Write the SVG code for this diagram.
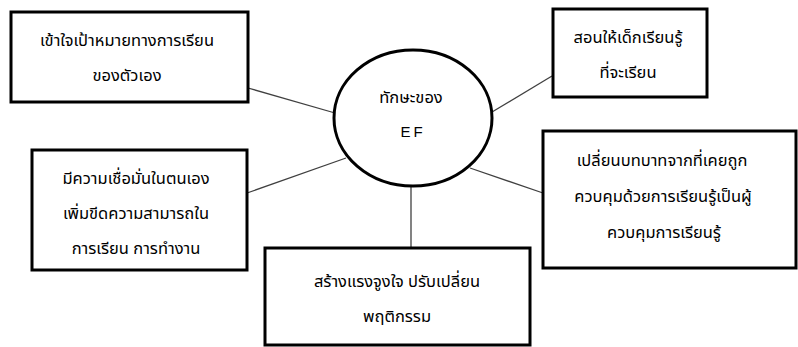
<svg xmlns="http://www.w3.org/2000/svg" width="798" height="347" viewBox="0 0 798 347">
<style>
.box{fill:#fff;stroke:#000;stroke-width:3}
.con{stroke:#404040;stroke-width:1.3;fill:none}
.t{font-family:"Noto Sans Thai","Noto Sans","DejaVu Sans",sans-serif;font-size:16.5px;fill:#000;text-anchor:middle}
.ef{font-family:"Liberation Sans",Arial,sans-serif;font-size:15px;letter-spacing:3px;fill:#000;text-anchor:middle}
</style>
<rect width="798" height="347" fill="#fff"/>
<g id="connectors">
<line class="con" x1="248" y1="88" x2="335" y2="113"/>
<line class="con" x1="552" y1="76" x2="492" y2="112"/>
<line class="con" x1="247" y1="193" x2="346" y2="158"/>
<line class="con" x1="470" y1="168" x2="543" y2="193"/>
<line class="con" x1="411" y1="186" x2="411" y2="248"/>
</g>
<g id="center">
<ellipse class="box" cx="413" cy="118" rx="79" ry="68"/>
<text class="t" x="411" y="103">ทักษะของ</text>
<text class="ef" x="413" y="137">EF</text>
</g>
<g id="node1">
<rect class="box" x="11" y="12" width="237" height="90"/>
<text class="t" x="127" y="46">เข้าใจเป้าหมายทางการเรียน</text>
<text class="t" x="127" y="81">ของตัวเอง</text>
</g>
<g id="node2">
<rect class="box" x="553" y="9" width="154" height="88"/>
<text class="t" x="628" y="43">สอนให้เด็กเรียนรู้</text>
<text class="t" x="628" y="78">ที่จะเรียน</text>
</g>
<g id="node3">
<rect class="box" x="32" y="150" width="215" height="120"/>
<text class="t" x="136" y="184">มีความเชื่อมั่นในตนเอง</text>
<text class="t" x="136" y="219">เพิ่มขีดความสามารถใน</text>
<text class="t" x="136" y="254">การเรียน การทำงาน</text>
</g>
<g id="node4">
<rect class="box" x="543" y="131" width="253" height="137"/>
<text class="t" x="662" y="166">เปลี่ยนบทบาทจากที่เคยถูก</text>
<text class="t" x="663" y="202">ควบคุมด้วยการเรียนรู้เป็นผู้</text>
<text class="t" x="664" y="238">ควบคุมการเรียนรู้</text>
</g>
<g id="node5">
<rect class="box" x="265" y="248" width="265" height="97"/>
<text class="t" x="397" y="287">สร้างแรงจูงใจ ปรับเปลี่ยน</text>
<text class="t" x="397" y="322">พฤติกรรม</text>
</g>
</svg>
